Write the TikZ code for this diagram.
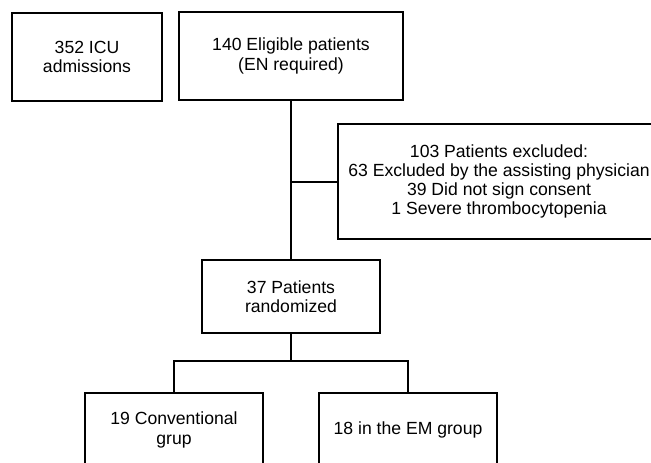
\documentclass[tikz,border=0pt]{standalone}
\usepackage{fontspec}
\setmainfont{Liberation Sans}
\begin{document}
\begin{tikzpicture}[x=0.5pt, y=-0.5pt, line width=1pt,
    box/.style={draw, align=center, inner sep=0pt,
      font=\fontsize{8.8pt}{9.6pt}\selectfont}]
  \useasboundingbox (0,0) rectangle (651,462);
  \begin{scope}
    \clip (0,0) rectangle (651,462);
    \node[box, minimum width=75pt, minimum height=44pt] (icu) at (87,57)
      {352 ICU\\admissions};
    \node[box, minimum width=112pt, minimum height=44pt] (eligible) at (291,56)
      {140 Eligible patients\\(EN required)};
    \node[box, minimum width=161pt, minimum height=57.5pt] (excluded) at (499,181.5)
      {103 Patients excluded:\\63 Excluded by the assisting physician\\39 Did not sign consent\\1 Severe thrombocytopenia};
    \node[box, minimum width=89pt, minimum height=36.5pt] (random) at (291,296.5)
      {37 Patients\\randomized};
    \node[box, minimum width=89pt, minimum height=37pt] (conv) at (174,430)
      {19 Conventional\\grup};
    \node[box, minimum width=89pt, minimum height=37pt] (em) at (408,430)
      {18 in the EM group};
    \coordinate (fork) at (291,361);
    \draw (eligible.south) -- (random.north);
    \draw (excluded.west) -- (excluded.west -| eligible.south);
    \draw (random.south) -- (fork);
    \draw (conv.north) |- (fork) -| (em.north);
  \end{scope}
\end{tikzpicture}
\end{document}
